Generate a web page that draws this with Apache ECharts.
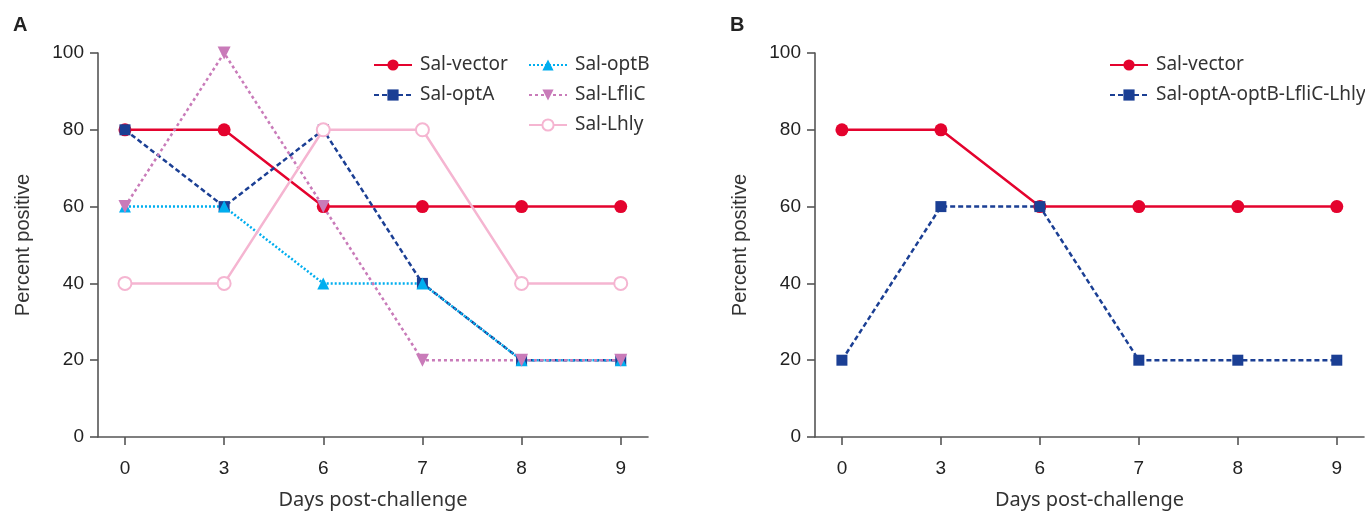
<!DOCTYPE html>
<html>
<head>
<meta charset="utf-8">
<script src="https://cdn.jsdelivr.net/npm/echarts@6/dist/echarts.min.js"></script>
<style>
html,body{margin:0;padding:0;background:#fff;}
#chart{width:1365px;height:515px;}
</style>
</head>
<body>
<div id="chart"></div>
<script>
// ---- data ----
const days = ['0', '3', '6', '7', '8', '9'];
const yTicks = [0, 20, 40, 60, 80, 100];

const salVectorA = [80, 80, 60, 60, 60, 60];
const salOptA    = [80, 60, 80, 40, 20, 20];
const salOptB    = [60, 60, 40, 40, 20, 20];
const salLfliC   = [60, 100, 60, 20, 20, 20];
const salLhly    = [40, 40, 80, 80, 40, 40];

const salVectorB = [80, 80, 60, 60, 60, 60];
const salCombo   = [20, 60, 60, 20, 20, 20];

const namesA = ['Sal-vector', 'Sal-optA', 'Sal-optB', 'Sal-LfliC', 'Sal-Lhly'];
const namesB = ['Sal-vector', 'Sal-optA-optB-LfliC-Lhly'];

// ---- styles ----
const C_RED = '#E4032E', C_NAVY = '#1B3F94', C_CYAN = '#00AEEF', C_ORCHID = '#C97BB9', C_PINK = '#F5B5D1';
const AXIS_COL = '#555';
const NUM_FONT = '"Liberation Sans", Arial, sans-serif';
const TXT_FONT = '"Noto Sans", sans-serif';
const idx = days.map((d, i) => i);
const pts = arr => arr.map((v, i) => [i, v]);

function xAxis(gi) {
  return {
    type: 'value', gridIndex: gi, min: -0.272, max: 5.275,
    name: 'Days post-challenge', nameLocation: 'middle', nameGap: 53,
    nameTextStyle: {fontFamily: TXT_FONT, fontSize: 20, color: '#333'},
    splitLine: {show: false},
    axisLine: {show: true, onZero: false, lineStyle: {color: AXIS_COL, width: 1.6}},
    axisTick: {show: true, customValues: idx, length: 8, lineStyle: {color: AXIS_COL, width: 1.6}},
    axisLabel: {customValues: idx, formatter: v => days[Math.round(v)], margin: 22,
      fontFamily: NUM_FONT, fontSize: 19, color: '#222'}
  };
}
function yAxis(gi) {
  return {
    type: 'value', gridIndex: gi, min: 0, max: 100, interval: 20,
    name: 'Percent positive', nameLocation: 'middle', nameGap: 65,
    nameTextStyle: {fontFamily: NUM_FONT, fontSize: 20, color: '#333'},
    splitLine: {show: false},
    axisLine: {show: true, onZero: false, lineStyle: {color: AXIS_COL, width: 1.6}},
    axisTick: {show: true, length: 8, lineStyle: {color: AXIS_COL, width: 1.6}},
    axisLabel: {margin: 14, fontFamily: NUM_FONT, fontSize: 19, color: '#222'}
  };
}
function line(name, data, gi, color, type, symbol, size, extra) {
  return Object.assign({
    name, type: 'line', xAxisIndex: gi, yAxisIndex: gi, data: pts(data),
    symbol, symbolSize: size, color,
    lineStyle: {color, width: 2.5, type},
    itemStyle: {color},
    emphasis: {disabled: true}, animation: false
  }, extra || {});
}

const legendText = {fontFamily: TXT_FONT, fontSize: 19, color: '#333', padding: [0, 0, 0, 3], lineHeight: 20};
const legendBase = {orient: 'vertical', padding: 0, itemWidth: 38, itemHeight: 14, itemGap: 10, textStyle: legendText, selectedMode: false, top: 55};

const chart = echarts.init(document.getElementById('chart'), null, {renderer: 'canvas'});
chart.setOption({
  backgroundColor: '#fff',
  animation: false,
  title: [
    {text: 'A', left: 13, top: 15, padding: 0, textStyle: {fontFamily: NUM_FONT, fontSize: 20, fontWeight: 'bold', color: '#222'}},
    {text: 'B', left: 730, top: 15, padding: 0, textStyle: {fontFamily: NUM_FONT, fontSize: 20, fontWeight: 'bold', color: '#222'}}
  ],
  grid: [
    {left: 98, top: 53, width: 550, height: 387, containLabel: false},
    {left: 815, top: 53, width: 549, height: 387, containLabel: false}
  ],
  xAxis: [xAxis(0), xAxis(1)],
  yAxis: [yAxis(0), yAxis(1)],
  legend: [
    Object.assign({}, legendBase, {left: 373, data: [namesA[0], namesA[1]]}),
    Object.assign({}, legendBase, {left: 528, data: [namesA[2], namesA[3], namesA[4]]}),
    Object.assign({}, legendBase, {left: 1109, data: namesB})
  ],
  series: [
    line(namesA[0], salVectorA, 0, C_RED, 'solid', 'circle', 13),
    line(namesA[1], salOptA, 0, C_NAVY, [5, 3], 'rect', 11),
    line(namesA[2], salOptB, 0, C_CYAN, [2, 2], 'triangle', 12),
    line(namesA[3], salLfliC, 0, C_ORCHID, [3, 3], 'triangle', 13, {symbolRotate: 180}),
    line(namesA[4], salLhly, 0, C_PINK, 'solid', 'emptyCircle', 13, {itemStyle: {color: C_PINK, borderWidth: 2.2}}),
    line(namesB[0], salVectorB, 1, C_RED, 'solid', 'circle', 13),
    line(namesB[1], salCombo, 1, C_NAVY, [5, 3], 'rect', 11)
  ]
});
</script>
</body>
</html>
